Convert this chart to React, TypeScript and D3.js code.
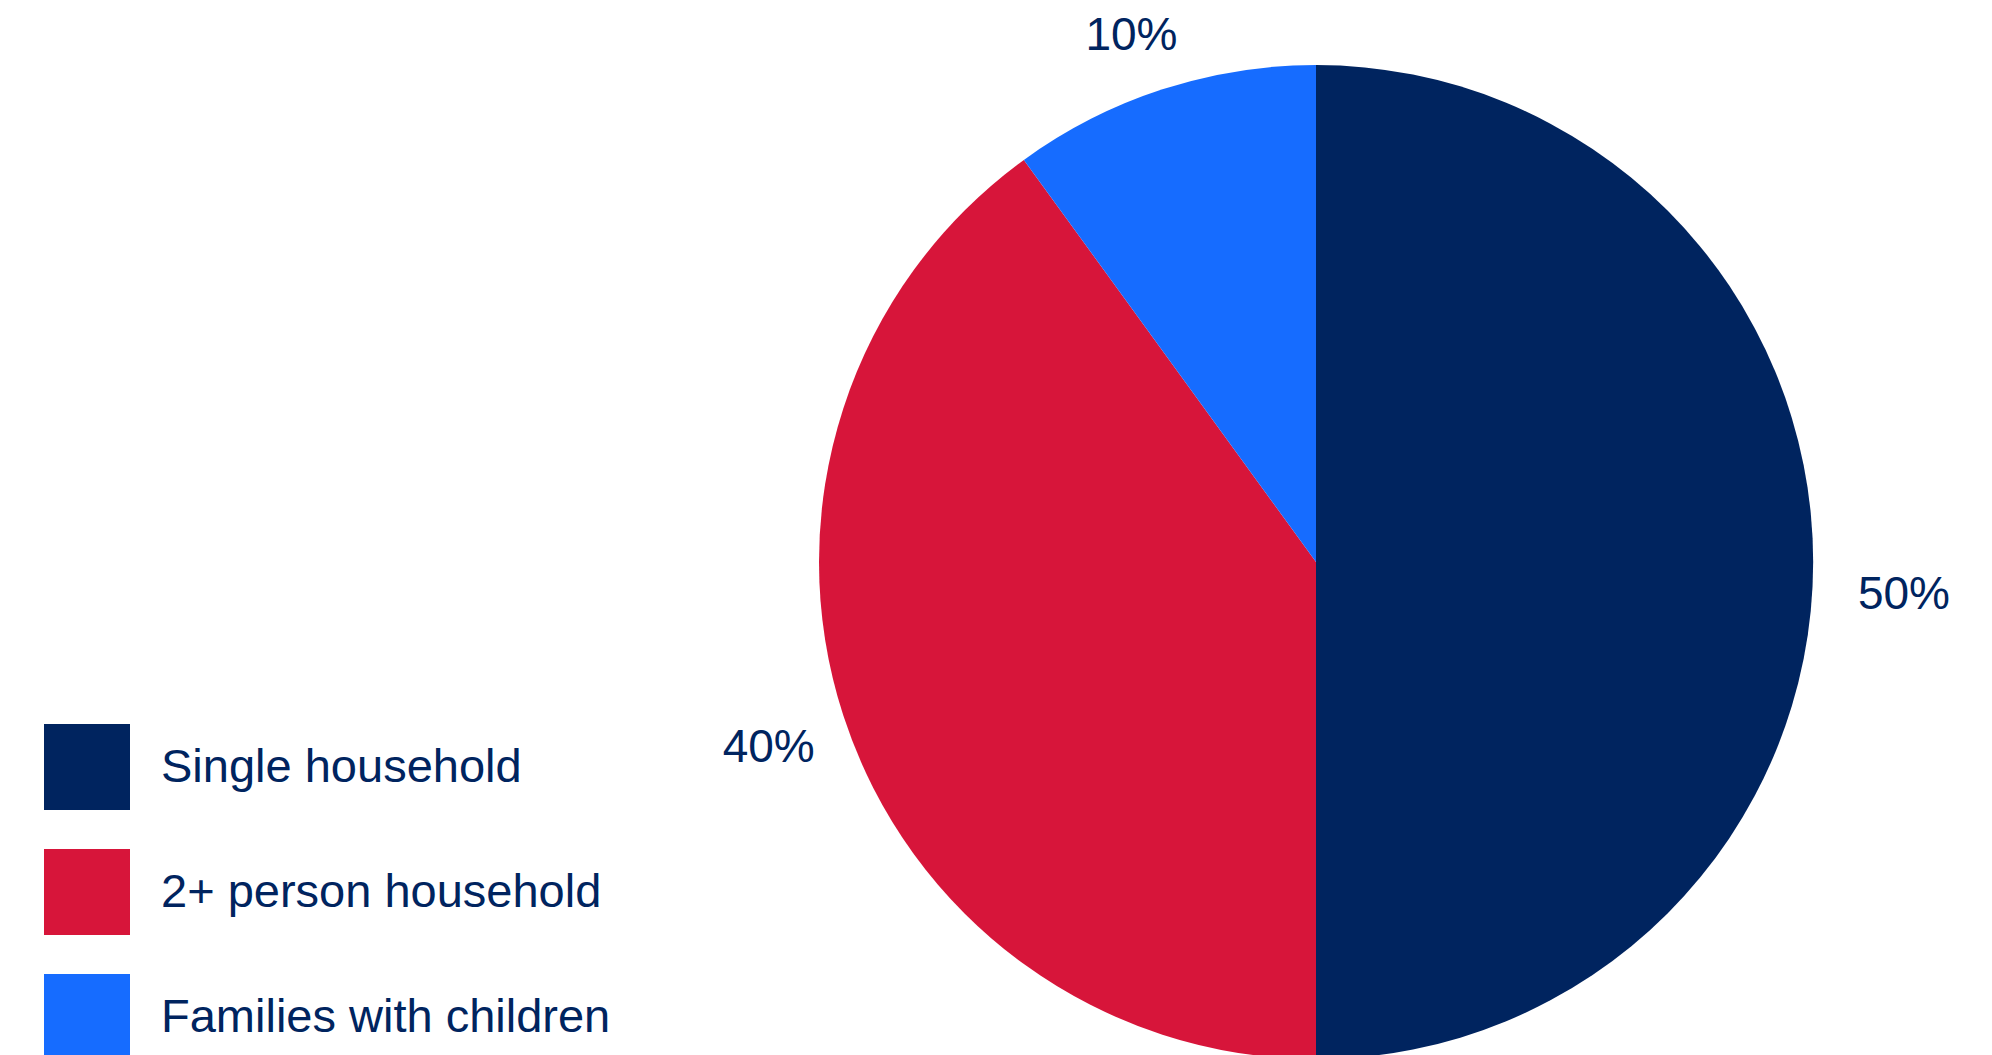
import React from "react";
import * as d3 from "d3";

const categories = ["Single household", "2+ person household", "Families with children"];
const shares = [50, 40, 10];
const colors = ["#00245F", "#D7153A", "#166CFF"];

const W = 1992;
const H = 1055;
const cx = 1316;
const cy = 562;
const radius = 497;
const labelRadius = 565;
const textColor = "#00245F";

const App: React.FC = () => {
    const pie = d3.pie<number>().sort(null).value((d) => d);
    const arcs = pie(shares);
    const arc = d3.arc<d3.PieArcDatum<number>>().innerRadius(0).outerRadius(radius);
    const labelArc = d3
        .arc<d3.PieArcDatum<number>>()
        .innerRadius(labelRadius)
        .outerRadius(labelRadius);

    // legend rows, centred on each swatch
    const legendY = d3
        .scalePoint<string>()
        .domain(categories)
        .range([767, 1017]);

    return (
        <svg
            width={W}
            height={H}
            style={{ position: "absolute", left: 0, top: 0, background: "#fff" }}
        >
            <g transform={`translate(${cx},${cy})`}>
                {arcs.map((a, i) => (
                    <path key={categories[i]} d={arc(a) as string} fill={colors[i]} />
                ))}
                {arcs.map((a, i) => {
                    const [x, y] = labelArc.centroid(a);
                    const right = x > 1;
                    return (
                        <text
                            key={"l" + i}
                            x={x}
                            y={y}
                            dx={right ? 23 : -10}
                            dy={right ? 31 : 9}
                            textAnchor="middle"
                            dominantBaseline="central"
                            fontFamily="'Liberation Sans', Arial, sans-serif"
                            fontSize={46}
                            fill={textColor}
                        >
                            {`${shares[i]}%`}
                        </text>
                    );
                })}
            </g>
            <g>
                {categories.map((c, i) => {
                    const y = legendY(c) as number;
                    return (
                        <g key={c}>
                            <rect x={44} y={y - 43} width={86} height={86} fill={colors[i]} />
                            <text
                                x={161}
                                y={y - 2}
                                dominantBaseline="central"
                                fontFamily="'Liberation Sans', Arial, sans-serif"
                                fontSize={47}
                                fill={textColor}
                            >
                                {c}
                            </text>
                        </g>
                    );
                })}
            </g>
        </svg>
    );
};

export default App;
